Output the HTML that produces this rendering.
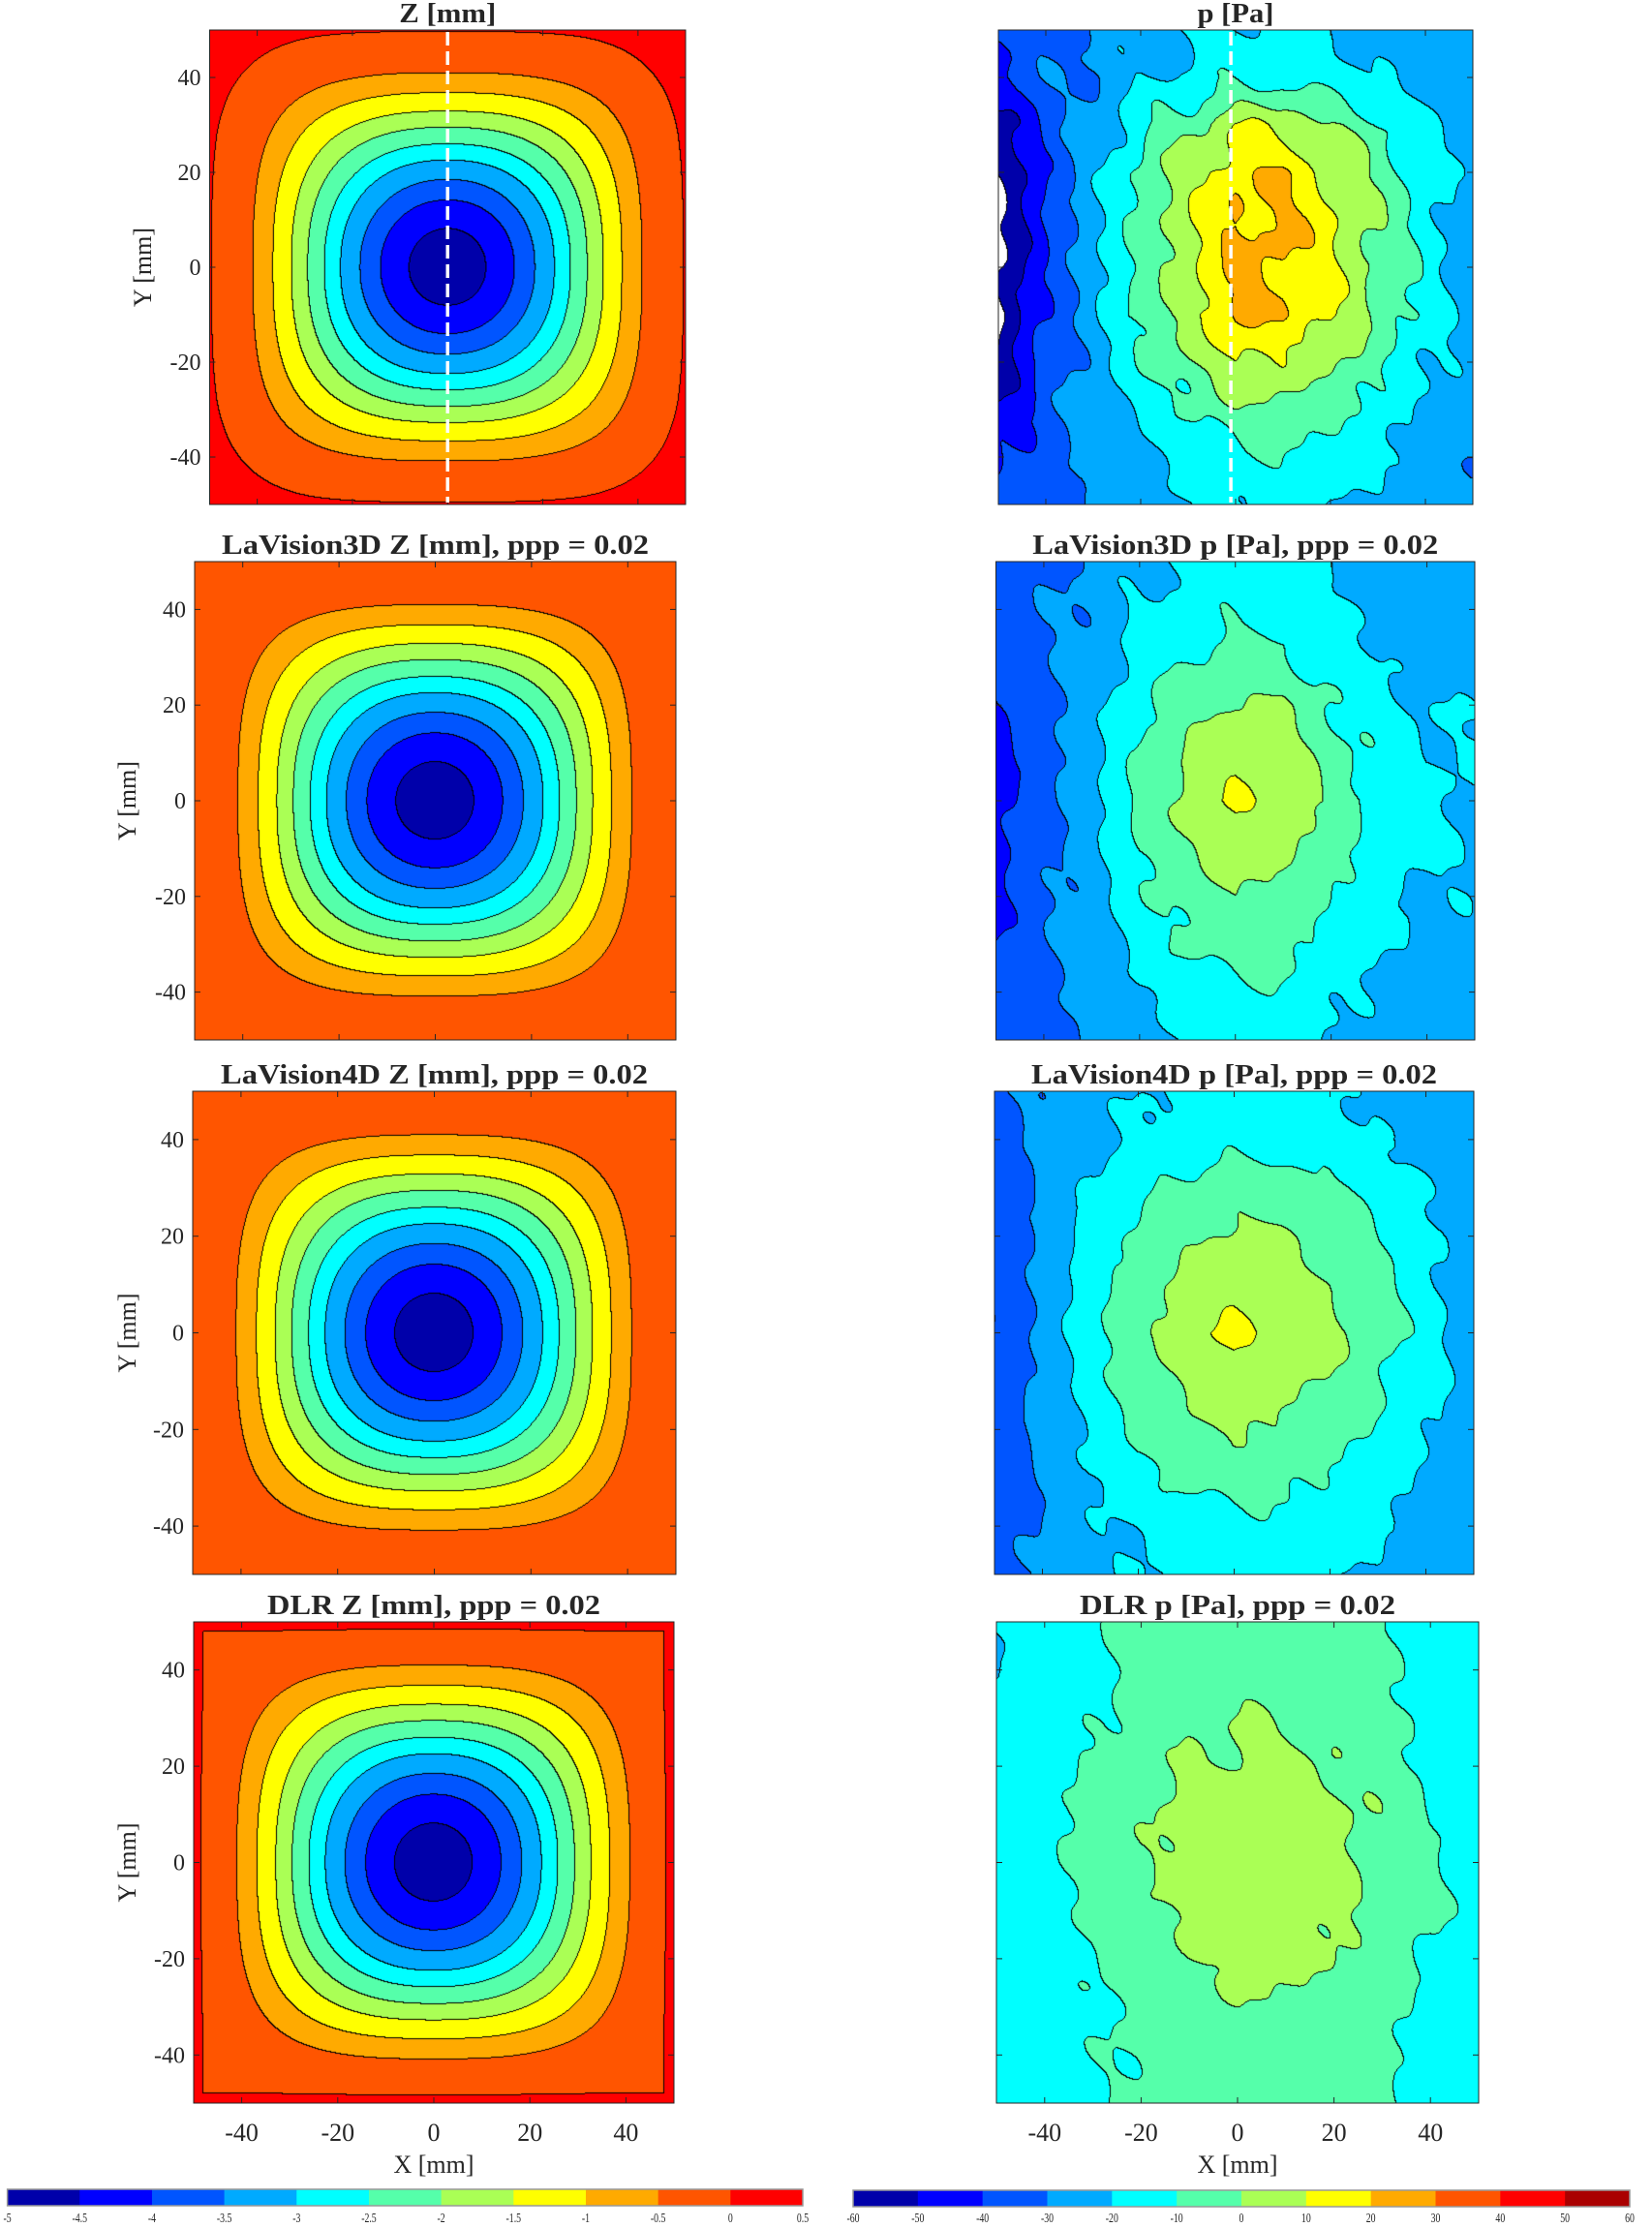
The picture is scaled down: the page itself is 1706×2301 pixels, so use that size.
<!DOCTYPE html>
<html><head><meta charset="utf-8"><title>Z and p contour comparison</title>
<style>
html,body{margin:0;padding:0;background:#fff;}
#root{position:relative;width:1706px;height:2301px;overflow:hidden;background:#fff;}
canvas{position:absolute;}
#ov{position:absolute;left:0;top:0;}
text{font-family:"Liberation Serif",serif;fill:#262626;}
</style></head>
<body>
<div id="root">
<svg id="ov" width="1706" height="2301"></svg>
</div>
<script>
// ---------- data ----------
const zLevels = [-5,-4.5,-4,-3.5,-3,-2.5,-2,-1.5,-1,-0.5,0,0.5];
const zColors = ["#0000aa","#0000ff","#0055ff","#00aaff","#00ffff","#55ffaa","#aaff55","#ffff00","#ffaa00","#ff5500","#ff0000"];
const pLevels = [-60,-50,-40,-30,-20,-10,0,10,20,30,40,50,60];
const pColors = ["#0000aa","#0000ff","#0055ff","#00aaff","#00ffff","#55ffaa","#aaff55","#ffff00","#ffaa00","#ff5500","#ff0000","#aa0000"];
const zTickLabels = ["-5","-4.5","-4","-3.5","-3","-2.5","-2","-1.5","-1","-0.5","0","0.5"];
const pTickLabels = ["-60","-50","-40","-30","-20","-10","0","10","20","30","40","50","60"];
const axisTicks = [-40,-20,0,20,40];

// Z profile (superellipse radius mm -> Z mm)
const zProfileR = [0,8.1,14.1,18.4,22.5,25.9,29.4,32.8,36.7,40.9,47,49,50,53,80];
const zProfileTruth = [-4.95,-4.5,-4,-3.5,-3,-2.5,-2,-1.5,-1,-0.5,-0.12,-0.03,0.02,0.15,0.4];
const zProfileLav3d = [-4.95,-4.5,-4,-3.5,-3,-2.5,-2,-1.5,-1,-0.5,-0.15,-0.1,-0.08,-0.06,-0.05];
const zProfileLav4d = [-4.95,-4.5,-4,-3.5,-3,-2.5,-2,-1.5,-1,-0.5,-0.15,-0.1,-0.08,-0.06,-0.05];
const zProfileDlr = [-4.95,-4.5,-4,-3.5,-3,-2.5,-2,-1.5,-1,-0.5,-0.15,-0.1,-0.08,-0.06,-0.05];
const zEdgeBump = [0,0,0,0.35];
const zEdgeWidth = 2.5;
const zShapeExp = [2,4.2];

// p profiles: along y=0 (H, x ascending) and x=0 (V, y ascending)
const pAxis = [-50,-40,-30,-20,-10,0,10,20,30,40,50];
const pHTruth = [-63,-40,-23,-6,7,22,21,12,-1,-14,-25];
const pVTruth = [-16,-11,-2,10,21,22,23,19,8,-13,-18];
const pHLav3d = [-45,-33,-23,-6,3,11,8,-3,-12,-18,-19];
const pVLav3d = [-16,-11,-4,0,6,11,8,2,-6,-12,-15];
const pHLav4d = [-40,-27,-13,-2,6,12,8,3,-5,-15,-24];
const pVLav4d = [-15,-12,-5,2,7,12,8,3,-3,-13,-16];
const pHDlr = [-16,-12,-7,-1,3,5,5,3,-2,-9,-13];
const pVDlr = [-4,-3,-1,2,4,5,5,2,-1,-3,-3];
const pBase = -30;
const pTexture = [4,2.5,2,2];

// ---------- layout ----------
const layout = [
 {kind:'z',prof:zProfileTruth,ci:0,x:216.5,y:31,w:491.5,h:490,title:'Z [mm]',tw:100,yl:147,dash:0,name:'truth-z'},
 {kind:'p',H:pHTruth,V:pVTruth,ci:0,x:1031,y:31,w:490,h:490,title:'p [Pa]',tw:79,dash:-1,name:'truth-p'},
 {kind:'z',prof:zProfileLav3d,ci:1,x:201,y:580,w:497,h:494,title:'LaVision3D Z [mm], ppp = 0.02',tw:441,yl:131,name:'lavision3d-z'},
 {kind:'p',H:pHLav3d,V:pVLav3d,ci:1,x:1028.5,y:580,w:494.5,h:494,title:'LaVision3D p [Pa], ppp = 0.02',tw:419,name:'lavision3d-p'},
 {kind:'z',prof:zProfileLav4d,ci:2,x:199,y:1127,w:499,h:499,title:'LaVision4D Z [mm], ppp = 0.02',tw:441,yl:131,name:'lavision4d-z'},
 {kind:'p',H:pHLav4d,V:pVLav4d,ci:2,x:1027,y:1127,w:495,h:499,title:'LaVision4D p [Pa], ppp = 0.02',tw:419,name:'lavision4d-p'},
 {kind:'z',prof:zProfileDlr,ci:3,x:200,y:1675,w:496,h:497,title:'DLR Z [mm], ppp = 0.02',tw:344,yl:131,xt:true,name:'dlr-z'},
 {kind:'p',H:pHDlr,V:pVDlr,ci:3,x:1029,y:1675,w:498,h:497,title:'DLR p [Pa], ppp = 0.02',tw:326,xt:true,name:'dlr-p'}
];

function interp(xs, vs, x){
  if(x<=xs[0]) return vs[0];
  for(let i=1;i<xs.length;i++){ if(x<=xs[i]){const t=(x-xs[i-1])/(xs[i]-xs[i-1]); return vs[i-1]+t*(vs[i]-vs[i-1]);} }
  return vs[vs.length-1];
}
function hexToRgb(h){return [parseInt(h.substr(1,2),16),parseInt(h.substr(3,2),16),parseInt(h.substr(5,2),16)];}
function binOf(levels,v){
  if(v<levels[0]) return -1;
  for(let i=1;i<levels.length;i++){ if(v<levels[i]) return i-1; }
  return levels.length-1;
}
function zValue(P,x,y){
  const ax=Math.abs(x)+1e-6, ay=Math.abs(y)+1e-6;
  const r0=Math.sqrt(ax*ax+ay*ay);
  const n=zShapeExp[0]+(zShapeExp[1]-zShapeExp[0])*Math.min(1,Math.pow(r0/56,2.2));
  const r=Math.pow(Math.pow(ax,n)+Math.pow(ay,n),1/n);
  let v=interp(zProfileR,P.prof,r);
  const rho=Math.max(ax,ay);
  v+=zEdgeBump[P.ci]*Math.max(0,1-(50-rho)/zEdgeWidth);
  return v;
}
function pValue(P,x,y){
  const H=interp(pAxis,P.H,x), V=interp(pAxis,P.V,y);
  const pc=(interp(pAxis,P.H,0)+interp(pAxis,P.V,0))/2;
  let v=pBase+(H-pBase)*(V-pBase)/(pc-pBase);
  const t=Math.sin(0.35*x+0.2*y+1)+0.8*Math.sin(0.18*x-0.45*y+2)+0.5*Math.sin(0.7*x+0.55*y)+0.7*Math.sin(0.3*x+0.12*y+3);
  return v+pTexture[P.ci]*t/2;
}

const root=document.getElementById('root');
const svg=document.getElementById('ov');
const NS='http://www.w3.org/2000/svg';
function mk(tag,attrs,parent){const e=document.createElementNS(NS,tag);for(const k in attrs)e.setAttribute(k,attrs[k]);(parent||svg).appendChild(e);return e;}

layout.forEach(P=>{
  const W=Math.round(P.w),Hh=Math.round(P.h);
  const cv=document.createElement('canvas');
  cv.width=W;cv.height=Hh;
  cv.style.left=P.x+'px';cv.style.top=P.y+'px';cv.style.width=P.w+'px';cv.style.height=P.h+'px';
  
  
  root.insertBefore(cv,svg);
  const ctx=cv.getContext('2d');
  const img=ctx.createImageData(W,Hh);
  const levels=P.kind==='z'?zLevels:pLevels, cols=(P.kind==='z'?zColors:pColors).map(hexToRgb);
  const bins=new Int16Array(W*Hh);
  for(let j=0;j<Hh;j++){const y=50-(j+0.5)/Hh*100;
    for(let i=0;i<W;i++){const x=-50+(i+0.5)/W*100;
      const v=P.kind==='z'?zValue(P,x,y):pValue(P,x,y);
      bins[j*W+i]=binOf(levels,v);}}
  for(let j=0;j<Hh;j++)for(let i=0;i<W;i++){
    const b=bins[j*W+i];const k=(j*W+i)*4;
    let rgb;
    if(b<0||b>=cols.length) rgb=b<0?[255,255,255]:cols[cols.length-1]; else rgb=cols[b];
    const edge=(i<W-1&&bins[j*W+i+1]!==b)||(j<Hh-1&&bins[(j+1)*W+i]!==b);
    if(edge) rgb=[0,0,0];
    img.data[k]=rgb[0];img.data[k+1]=rgb[1];img.data[k+2]=rgb[2];img.data[k+3]=255;
  }
  ctx.putImageData(img,0,0);

  const g=mk('g',{});
  
  
  const sx=v=>P.x+(v+50)/100*P.w, sy=v=>P.y+(50-v)/100*P.h;
  const frame=mk('rect',{x:P.x,y:P.y,width:P.w,height:P.h,fill:'none',stroke:'#262626','stroke-width':1},g);
  
  
  axisTicks.forEach(t=>{
    const X=sx(t),Y=sy(t);
    [[X,P.y,X,P.y+6],[X,P.y+P.h,X,P.y+P.h-6],[P.x,Y,P.x+6,Y],[P.x+P.w,Y,P.x+P.w-6,Y]].forEach(c=>{
      const l=mk('line',{x1:c[0],y1:c[1],x2:c[2],y2:c[3],stroke:'#262626','stroke-width':1},g);
      
      
    });
    if(P.kind==='z'){
      const tl=mk('text',{x:P.x-9,y:Y+8,'text-anchor':'end','font-size':24},g);
      tl.textContent=String(t);
      
      
    }
    if(P.xt){
      const xl=mk('text',{x:X,y:P.y+P.h+39,'text-anchor':'middle','font-size':26},g);
      xl.textContent=String(t);
      
      
    }
  });
  const ti=mk('text',{x:P.x+P.w/2,y:P.y-8,'text-anchor':'middle','font-size':28,'font-weight':'bold',fill:'#000',textLength:P.tw,lengthAdjust:'spacingAndGlyphs'},g);
  ti.textContent=P.title;
  
  
  if(P.kind==='z'){
    const yl=mk('text',{x:P.yl,y:P.y+P.h/2,'text-anchor':'middle','font-size':26,transform:'rotate(-90 '+P.yl+' '+(P.y+P.h/2)+') translate(0 9)'},g);
    yl.textContent='Y [mm]';
    
    
  }
  if(P.xt){
    const xa=mk('text',{x:P.x+P.w/2,y:2244,'text-anchor':'middle','font-size':26},g);
    xa.textContent='X [mm]';
    
    
  }
  if(P.dash!==undefined){
    const d=mk('line',{x1:sx(P.dash),y1:P.y+2,x2:sx(P.dash),y2:P.y+P.h-2,stroke:'#fff','stroke-width':3.5,'stroke-dasharray':'14 6'},g);
    
    
  }
});

// ---------- colorbars ----------
function colorbar(name,levels,colors,labels,x0,x1,y0,y1){
  const g=mk('g',{});
  
  
  const lo=levels[0],hi=levels[levels.length-1];
  const cx=v=>x0+(v-lo)/(hi-lo)*(x1-x0);
  colors.forEach((c,i)=>{
    const r=mk('rect',{x:cx(levels[i]),y:y0,width:cx(levels[i+1])-cx(levels[i])+0.5,height:y1-y0,fill:c},g);
    
    
  });
  const f=mk('rect',{x:x0,y:y0,width:x1-x0,height:y1-y0,fill:'none',stroke:'#999','stroke-width':1.5},g);
  
  
  labels.forEach((s,i)=>{
    const t=mk('text',{x:cx(levels[i]),y:2295,'text-anchor':'middle','font-size':14,transform:'translate('+cx(levels[i])+' 0) scale(0.7 1) translate('+(-cx(levels[i]))+' 0)'},g);
    t.textContent=s;
    
    
  });
}
colorbar('z-colorbar',zLevels,zColors,zTickLabels,7.6,829,2261,2278);
colorbar('p-colorbar',pLevels,pColors,pTickLabels,881,1683,2262,2279);
</script>
</body></html>
